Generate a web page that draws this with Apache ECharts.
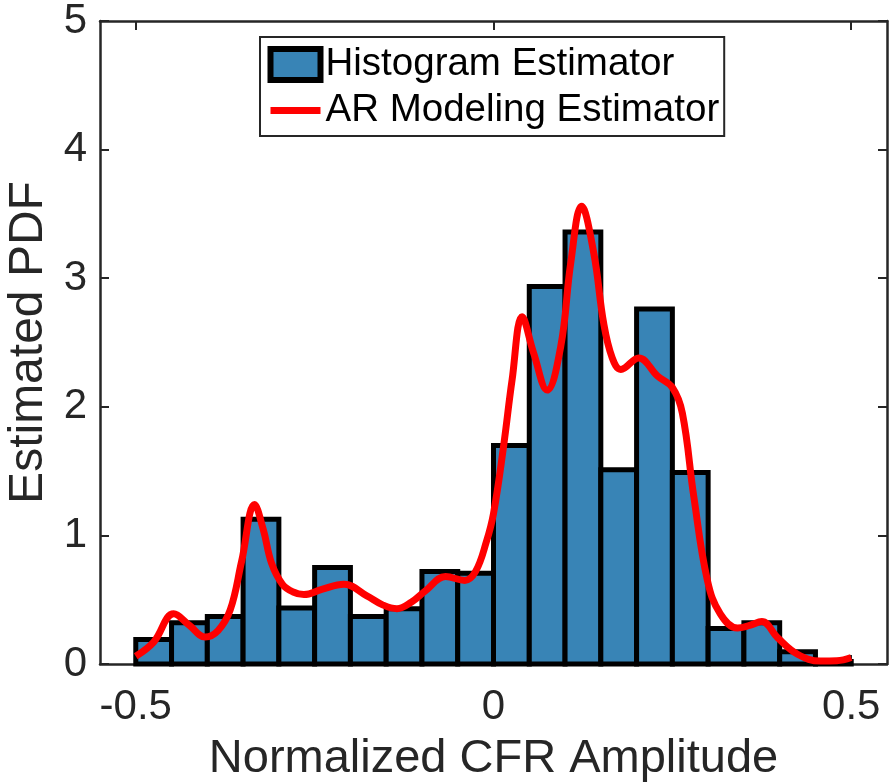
<!DOCTYPE html>
<html>
<head>
<meta charset="utf-8">
<script src="https://cdn.jsdelivr.net/npm/echarts@6/dist/echarts.min.js"></script>
<style>
html,body{margin:0;padding:0;background:#fff;}
#chart{width:890px;height:784px;}
</style>
</head>
<body>
<div id="chart"></div>
<script>
// ---- data ----
var binEdges = [-0.5, -0.45, -0.4, -0.35, -0.3, -0.25, -0.2, -0.15, -0.1, -0.05, 0,
                0.05, 0.1, 0.15, 0.2, 0.25, 0.3, 0.35, 0.4, 0.45, 0.5];
var histDensity = [0.19, 0.32, 0.37, 1.125, 0.435, 0.75, 0.37, 0.43, 0.72, 0.705,
                   1.70, 2.935, 3.36, 1.51, 2.76, 1.49, 0.276, 0.32, 0.096, 0.02];
var arX = [-0.5, -0.475, -0.447, -0.425, -0.403, -0.385, -0.368, -0.352, -0.334, -0.322,
           -0.31, -0.295, -0.28, -0.265, -0.24, -0.209, -0.177, -0.155, -0.135, -0.115,
           -0.095, -0.067, -0.04, -0.025, -0.01, 0.0, 0.014, 0.026, 0.040, 0.056,
           0.075, 0.094, 0.108, 0.123, 0.140, 0.154, 0.166, 0.178, 0.203, 0.229,
           0.250, 0.264, 0.280, 0.299, 0.317, 0.341, 0.358, 0.375, 0.397, 0.425,
           0.457, 0.48, 0.5];
var arY = [0.06, 0.17, 0.39, 0.30, 0.21, 0.26, 0.42, 0.80, 1.24, 1.05,
           0.78, 0.62, 0.56, 0.54, 0.58, 0.62, 0.53, 0.46, 0.43, 0.48,
           0.57, 0.68, 0.65, 0.72, 0.95, 1.17, 1.69, 2.21, 2.70, 2.42,
           2.13, 2.47, 3.12, 3.56, 3.20, 2.65, 2.38, 2.29, 2.38, 2.24,
           2.15, 1.95, 1.30, 0.65, 0.39, 0.28, 0.30, 0.33, 0.205, 0.076,
           0.023, 0.025, 0.05];
var xTickValues = [-0.5, 0, 0.5];
var xTickLabels = ['-0.5', '0', '0.5'];
var seriesNames = ['Histogram Estimator', 'AR Modeling Estimator'];
var xLabel = 'Normalized CFR Amplitude';
var yLabel = 'Estimated PDF';

// ---- build ----
var histData = histDensity.map(function (d, i) { return [binEdges[i], binEdges[i + 1], d]; });
var curveData = arX.map(function (x, i) { return [x, arY[i]]; });

var FONT = "'Liberation Sans', Arial, Helvetica, sans-serif";
var AX = '#262626';
var barFill = '#3884b6';

var chart = echarts.init(document.getElementById('chart'), null, { renderer: 'canvas' });
var axisLineStyle = { color: AX, width: 2.5 };
chart.setOption({
  animation: false,
  backgroundColor: '#fff',
  grid: { left: 100, right: 3, top: 21, bottom: 120, containLabel: false, outerBoundsMode: 'none' },
  legend: {
    orient: 'vertical',
    left: 260, top: 37,
    padding: [8, 5, 6, 7],
    itemGap: 7,
    itemWidth: 50, itemHeight: 31,
    borderColor: AX, borderWidth: 2,
    backgroundColor: '#fff',
    textStyle: { fontFamily: FONT, fontSize: 38.5, color: '#000' },
    data: [
      { name: seriesNames[0], icon: 'rect', itemStyle: { color: barFill, borderColor: '#000', borderWidth: 6 } },
      { name: seriesNames[1], itemStyle: { color: 'rgba(0,0,0,0)', borderWidth: 0, opacity: 0 },
        lineStyle: { color: '#ff0000', width: 7 } }
    ]
  },
  xAxis: [{
    type: 'value', min: -0.55, max: 0.55, position: 'bottom',
    axisLine: { show: true, onZero: false, lineStyle: axisLineStyle },
    axisTick: { show: true, inside: true, length: 9, customValues: xTickValues, lineStyle: { color: AX, width: 2 } },
    axisLabel: {
      customValues: xTickValues,
      formatter: function (v) { var i = xTickValues.indexOf(v); return i >= 0 ? xTickLabels[i] : ''; },
      fontFamily: FONT, fontSize: 42, color: AX, margin: 22
    },
    splitLine: { show: false },
    name: xLabel, nameLocation: 'middle', nameGap: 72,
    nameTextStyle: { fontFamily: FONT, fontSize: 47, color: AX }
  }, {
    type: 'value', min: -0.55, max: 0.55, position: 'top',
    axisLine: { show: true, onZero: false, lineStyle: axisLineStyle },
    axisTick: { show: true, inside: true, length: 9, customValues: xTickValues, lineStyle: { color: AX, width: 2 } },
    axisLabel: { show: false },
    splitLine: { show: false }
  }],
  yAxis: [{
    type: 'value', min: 0, max: 5, interval: 1, position: 'left',
    axisLine: { show: true, onZero: false, lineStyle: axisLineStyle },
    axisTick: { show: true, inside: true, length: 9, lineStyle: { color: AX, width: 2 } },
    axisLabel: { fontFamily: FONT, fontSize: 42, color: AX, margin: 13 },
    splitLine: { show: false },
    name: yLabel, nameLocation: 'middle', nameGap: 46,
    nameTextStyle: { fontFamily: FONT, fontSize: 48, color: AX }
  }, {
    type: 'value', min: 0, max: 5, interval: 1, position: 'right',
    axisLine: { show: true, onZero: false, lineStyle: axisLineStyle },
    axisTick: { show: true, inside: true, length: 9, lineStyle: { color: AX, width: 2 } },
    axisLabel: { show: false },
    splitLine: { show: false }
  }],
  series: [{
    name: seriesNames[0],
    type: 'custom',
    xAxisIndex: 0, yAxisIndex: 0,
    itemStyle: { color: barFill, borderColor: '#000', borderWidth: 5 },
    encode: { x: [0, 1], y: 2 },
    data: histData,
    renderItem: function (params, api) {
      var p0 = api.coord([api.value(0), api.value(2)]);
      var p1 = api.coord([api.value(1), 0]);
      return {
        type: 'rect',
        shape: { x: p0[0], y: p0[1], width: p1[0] - p0[0], height: p1[1] - p0[1] },
        style: { fill: barFill, stroke: '#000', lineWidth: 5 }
      };
    },
    z: 2
  }, {
    name: seriesNames[1],
    type: 'line',
    xAxisIndex: 0, yAxisIndex: 0,
    data: curveData,
    smooth: 0.4,
    showSymbol: false,
    symbol: 'none',
    lineStyle: { color: '#ff0000', width: 7 },
    itemStyle: { color: '#ff0000' },
    z: 3
  }]
});
</script>
</body>
</html>
